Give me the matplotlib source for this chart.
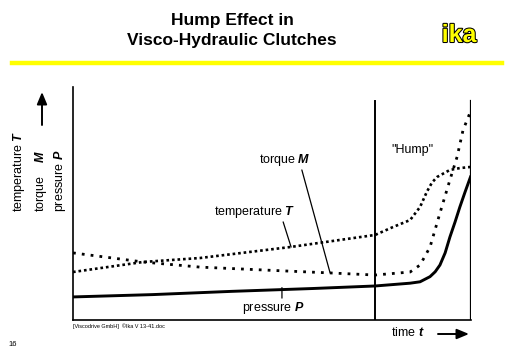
import matplotlib.pyplot as plt
import matplotlib.patheffects as pe
from matplotlib.patches import FancyArrowPatch

plt.rcParams['font.family'] = ['Liberation Sans', 'DejaVu Sans']
plt.rcParams['mathtext.fontset'] = 'custom'
plt.rcParams['mathtext.rm'] = 'Liberation Sans'
plt.rcParams['mathtext.bf'] = 'Liberation Sans:italic:bold'

# Daten (Zeit 0..100, Werte 0..100, qualitativ)
time_p = [0, 20, 40, 60, 75.9, 84.7, 87.2, 89.7, 91.0, 92.2, 93.5, 94.7, 96.0, 97.2, 98.5, 100]
pressure = [9.9, 10.9, 12.3, 13.5, 14.6, 15.8, 16.4, 18.6, 20.7, 23.6, 28.8, 35.6, 42.1, 48.5, 54.9, 62.0]

time_m = [0, 17.6, 31.9, 50, 64.6, 75.9, 84.7, 87.2, 89.7, 92.2, 94.7, 96.5, 98.0, 100]
torque = [28.8, 24.9, 22.7, 21.3, 20.2, 19.3, 20.6, 23.6, 31.3, 45.9, 60.1, 70.0, 81.5, 90.0]

time_t = [0, 17.6, 31.9, 54.5, 75.9, 80.4, 84.7, 87.2, 88.9, 90.2, 91.5, 94.7, 97.2, 100]
temperature = [20.6, 24.9, 26.6, 31.3, 36.5, 39.9, 42.9, 48.5, 55.0, 59.0, 61.4, 64.4, 65.2, 65.7]

hump_start = 75.9
W, H = 512, 354


def fx(x):
    return x / W


def fy(y):
    return 1 - y / H


fig = plt.figure(figsize=(5.12, 3.54), dpi=100)
ax = fig.add_axes([fx(73), fy(320), (471 - 73) / W, (320 - 87) / H])

ax.plot(time_p, pressure, color='black', lw=2.1, solid_capstyle='butt')
ax.plot(time_m, torque, color='black', lw=2.0, linestyle=(0, (1, 2.2)))
ax.plot(time_t, temperature, color='black', lw=1.9, linestyle=(0, (1, 1.1)))

ax.axvline(hump_start, ymax=0.94, color='black', lw=1.4)
ax.axvline(100, ymax=0.94, color='black', lw=1.6)

ax.set_xlim(0, 100)
ax.set_ylim(0, 100)
ax.set_xticks([])
ax.set_yticks([])
for s in ['top', 'right']:
    ax.spines[s].set_visible(False)
for s in ['left', 'bottom']:
    ax.spines[s].set_linewidth(1.2)

# Beschriftungen im Diagramm
leader = dict(arrowstyle='-', lw=0.9, shrinkA=0, shrinkB=0)
ax.text(53.3, 68.7, 'torque $\\mathbf{M}$', ha='center', va='center', fontsize=9)
ax.annotate('', xy=(64.6, 20.2), xytext=(57.5, 64.4), arrowprops=leader)
ax.text(45.7, 46.4, 'temperature $\\mathbf{T}$', ha='center', va='center', fontsize=9)
ax.annotate('', xy=(54.8, 31.3), xytext=(52.8, 42.1), arrowprops=leader)
ax.text(50.3, 5.2, 'pressure $\\mathbf{P}$', ha='center', va='center', fontsize=9)
ax.annotate('', xy=(52.5, 13.9), xytext=(52.5, 9.4), arrowprops=leader)
ax.text(85.2, 73.0, '"Hump"', ha='center', va='center', fontsize=9)

# Titel
fig.text(fx(232), fy(20), 'Hump Effect in', ha='center', va='center',
         fontsize=12.5, fontweight='bold')
fig.text(fx(232), fy(41), 'Visco-Hydraulic Clutches', ha='center', va='center',
         fontsize=12.5, fontweight='bold')
fig.text(fx(459), fy(35), 'ika', ha='center', va='center', fontsize=18,
         fontweight='bold', color='#FFFF00',
         path_effects=[pe.withStroke(linewidth=1.5, foreground='black')])
fig.add_artist(plt.Line2D([fx(12), fx(502)], [fy(63), fy(63)],
                          color='#FFFF00', lw=3.2))

# Achsentitel
fig.text(fx(19), fy(212), 'temperature $\\mathbf{T}$', rotation=90,
         ha='center', va='bottom', fontsize=9)
fig.text(fx(41), fy(212), 'torque    $\\mathbf{M}$', rotation=90,
         ha='center', va='bottom', fontsize=9)
fig.text(fx(60), fy(212), 'pressure $\\mathbf{P}$', rotation=90,
         ha='center', va='bottom', fontsize=9)

arr = dict(arrowstyle='-|>,head_length=0.6,head_width=0.25', color='black', lw=1.4,
           shrinkA=0, shrinkB=0)
fig.add_artist(FancyArrowPatch((fx(42), fy(125)), (fx(42), fy(92)),
                               transform=fig.transFigure, mutation_scale=12, **arr))

fig.text(fx(391), fy(333), 'time $\\mathbf{t}$', ha='left', va='center', fontsize=9)
fig.add_artist(FancyArrowPatch((fx(438), fy(334)), (fx(469), fy(334)),
                               transform=fig.transFigure, mutation_scale=12, **arr))

fig.text(fx(73), fy(326), '[Viscodrive GmbH]  \u00a9Ika V 13-41.doc', ha='left',
         va='center', fontsize=4)
fig.text(fx(8), fy(345), '16', ha='left', va='center', fontsize=5.5)

fig.savefig('out.png', dpi=100)
